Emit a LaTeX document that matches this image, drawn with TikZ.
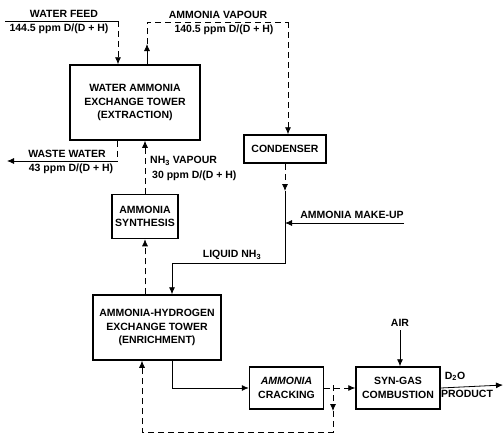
\documentclass[tikz,border=0pt]{standalone}
\usepackage{fontspec}
\setmainfont{Liberation Sans}
\usetikzlibrary{arrows.meta, positioning}

\begin{document}
\begin{tikzpicture}[x=1pt, y=-1pt, every node/.style={font=\fontsize{10.5}{13.5}\selectfont\bfseries}, box/.style={draw, rectangle, line width=1.5pt, align=center, inner sep=2pt}, flow/.style={line width=0.8pt, -{Latex[length=7pt, width=6pt]}}, pipe/.style={line width=0.8pt}, gas/.style={dash pattern=on 6pt off 4pt}, lbl/.style={inner sep=1pt}]
    \useasboundingbox (0,0) rectangle (504,434);

    % Towers and units
    \node[box, minimum width=130pt, minimum height=75pt] (tower) at (135,102.5) {WATER AMMONIA\\EXCHANGE TOWER\\(EXTRACTION)};
    \node[box, minimum width=66pt, minimum height=44pt, below=53pt of tower, xshift=10pt] (synth) {AMMONIA\\SYNTHESIS};
    \node[box, minimum width=82pt, minimum height=28pt] (cond) at (285,149) {CONDENSER};
    \node[box, minimum width=128pt, minimum height=65pt, below=55pt of synth, xshift=12pt] (enrich) {AMMONIA-HYDROGEN\\EXCHANGE TOWER\\(ENRICHMENT)};
    \node[box, minimum width=74pt, minimum height=42pt, right=27pt of enrich, yshift=-60.5pt] (crack) {\textit{AMMONIA}\\CRACKING};
    \node[box, minimum width=84pt, minimum height=42pt, right=31pt of crack] (syngas) {SYN-GAS\\COMBUSTION};

    % Water feed and waste water
    \coordinate (feed) at (5,21);
    \coordinate (feedc) at (118,21);
    \draw[pipe] (feed) -- (feedc);
    \draw[flow, gas] (feedc) -- (feedc |- tower.north);
    \node[lbl, anchor=south] (feedlbl) at (64,19) {WATER FEED};
    \node[lbl, anchor=north] (feedppm) at (59,23) {144.5 ppm D/(D + H)};

    \coordinate (ww) at (117,161);
    \coordinate (wwend) at (7,161);
    \draw[pipe, gas] (ww |- tower.south) -- (ww);
    \draw[flow] (ww) -- (wwend);
    \node[lbl, anchor=south] (wwlbl) at (67,159) {WASTE WATER};
    \node[lbl, anchor=north] (wwppm) at (71,163) {43 ppm D/(D + H)};

    % Ammonia vapour to condenser
    \coordinate (vapA) at (147,22);
    \coordinate (vapB) at (288,22);
    \coordinate (vapC) at (147,44);
    \draw[flow] (vapA |- tower.north) -- (vapC);
    \draw[pipe, gas] (vapC) -- (vapA) -- (vapB);
    \draw[flow, gas] (vapB) -- (vapB |- cond.north);
    \node[lbl, anchor=south] (vaplbl) at (218,20) {AMMONIA VAPOUR};
    \node[lbl, anchor=north] (vapppm) at (224,24) {140.5 ppm D/(D + H)};

    % Liquid ammonia to enrichment
    \coordinate (c1) at (285,191);
    \coordinate (c2) at (285,263);
    \coordinate (c3) at (172,263);
    \draw[flow, gas] (cond.south) -- (c1);
    \draw[flow] (c1) -- (c2) -- (c3) -- (c3 |- enrich.north);
    \node[lbl, anchor=south] (liq) at (232,261) {LIQUID NH\textsubscript{3}};

    \coordinate (mk) at (404,223);
    \draw[flow] (mk) -- (mk -| c2);
    \node[lbl, anchor=south] (mklbl) at (352,220) {AMMONIA MAKE-UP};

    % NH3 vapour loop
    \draw[flow, gas] (synth.south |- enrich.north) -- (synth.south);
    \draw[flow, gas] (synth.north) -- (synth.north |- tower.south);
    \node[lbl, anchor=west] (nhvap) at (149,161) {NH\textsubscript{3} VAPOUR};
    \node[lbl, anchor=west] (nhppm) at (151,176) {30 ppm D/(D + H)};

    % Cracking and combustion
    \draw[flow] (enrich.south -| c3) |- (crack.west);
    \draw[flow, gas] (crack.east) -- (syngas.west);
    \coordinate (br) at (333,385);
    \coordinate (br2) at (333,411);
    \coordinate (lp1) at (333,432);
    \coordinate (lp2) at (142,432);
    \draw[flow, gas] (br) -- (br2);
    \draw[flow, gas] (br2) -- (lp1) -- (lp2) -- (lp2 |- enrich.south);

    \node (air) at (400,323) {AIR};
    \draw[flow] (air) -- (air |- syngas.north);

    \coordinate (prod) at (503,385);
    \draw[flow] (syngas.east) -- (prod);
    \node[lbl, anchor=south] (d2o) at (455,382) {D\textsubscript{2}O};
    \node[lbl, anchor=north] (prodlbl) at (467,389) {PRODUCT};
\end{tikzpicture}
\end{document}
